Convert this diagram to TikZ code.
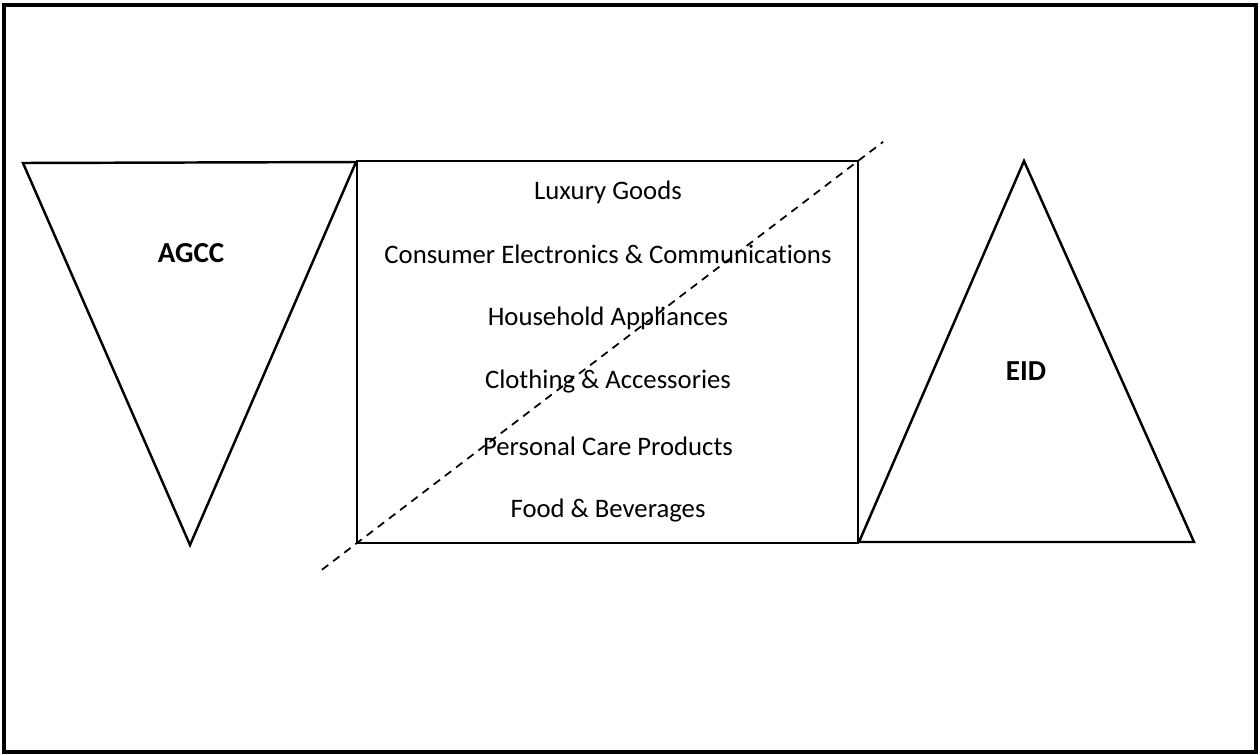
\documentclass[tikz,border=0pt]{standalone}
\usepackage{fontspec}
\setmainfont[Ligatures=CommonOff]{Carlito}
\usepackage{tikz}
\usetikzlibrary{calc,positioning}
\tikzstyle{item}    = [font=\fontsize{15.2}{18}\selectfont, inner sep=0pt]
\tikzstyle{tagname} = [font=\fontsize{16.5}{20}\selectfont\bfseries, inner sep=0pt]
\tikzstyle{outline} = [line width=1.4pt, line join=miter]

\begin{document}
\begin{tikzpicture}[x=0.02cm, y=-0.02cm]
        \useasboundingbox (0,0) rectangle (1260,754);
        \draw[line width=1.8pt] (4,5) rectangle (1256,752);

        % left triangle
        \coordinate (la) at (23,163);
        \coordinate (lb) at (356,162);
        \coordinate (lc) at (190,545);
        \draw[outline] (la) -- (lb) -- (lc) -- cycle;
        \node[tagname] (agcc) at (191,253) {AGCC};

        % middle box
        \coordinate (bl) at (357,543);
        \coordinate (tr) at (858,161);
        \draw[outline] (bl) rectangle (tr);
        \draw[line width=1pt, dash pattern=on 4.5pt off 3.5pt] ($(bl)!-0.07!(tr)$) -- ($(bl)!1.05!(tr)$);

        \node[item] (lux)  at (608,192) {Luxury Goods};
        \node[item] (cec)  at (608,254) {Consumer Electronics \& Communications};
        \node[item] (hha)  at (608,318) {Household Appliances};
        \node[item] (cla)  at (608,382) {Clothing \& Accessories};
        \node[item] (pcp)  at (608,446) {Personal Care Products};
        \node[item] (fab)  at (608,511) {Food \& Beverages};

        % right triangle
        \coordinate (ra) at (859,542);
        \coordinate (rb) at (1024,161);
        \coordinate (rc) at (1194,542);
        \draw[outline] (ra) -- (rb) -- (rc) -- cycle;
        \node[tagname] (eid) at (1026,371) {EID};
    \end{tikzpicture}
\end{document}
